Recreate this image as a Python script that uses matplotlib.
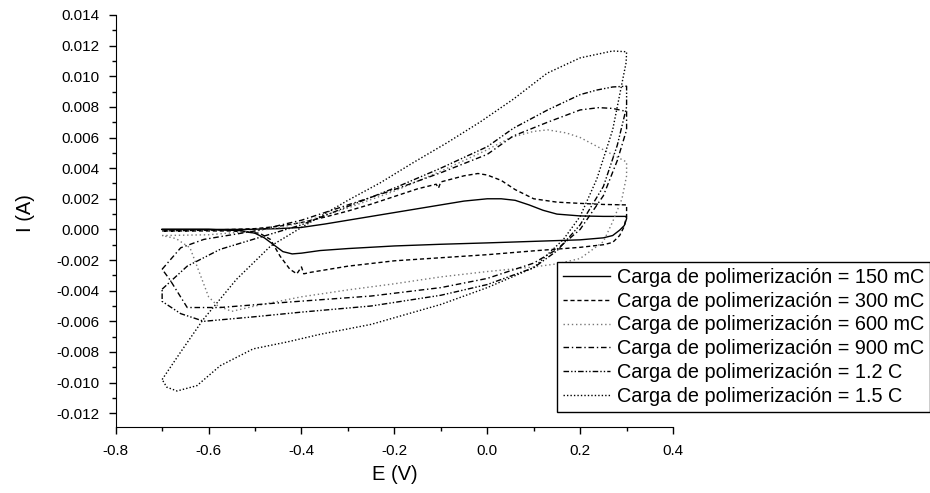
import numpy as np
import matplotlib
matplotlib.use('Agg')
from matplotlib import pyplot as plt
from matplotlib.ticker import MultipleLocator, FormatStrFormatter

plt.rcParams['font.family'] = ['Liberation Sans', 'DejaVu Sans']
plt.rcParams['axes.unicode_minus'] = False

# cyclic voltammograms, potential in V, current in mA
E_150 = [-0.70, -0.60, -0.52, -0.45, -0.40, -0.35, -0.30, -0.25, -0.20, -0.15, -0.10, -0.05,
         0.00, 0.03, 0.06, 0.09, 0.12, 0.15, 0.20, 0.25, 0.30,
         0.30, 0.295, 0.285, 0.27, 0.25, 0.20, 0.10, 0.00, -0.10, -0.20, -0.30, -0.36,
         -0.40, -0.42, -0.44, -0.46, -0.48, -0.50, -0.53, -0.60, -0.70]
I_150 = [0.00, 0.00, 0.00, 0.05, 0.13, 0.35, 0.60, 0.85, 1.10, 1.35, 1.60, 1.85,
         2.00, 2.00, 1.90, 1.60, 1.25, 1.00, 0.88, 0.85, 0.85,
         0.70, 0.25, -0.05, -0.40, -0.55, -0.68, -0.78, -0.88, -0.97, -1.08, -1.25, -1.38,
         -1.55, -1.60, -1.45, -1.00, -0.55, -0.25, -0.08, 0.00, 0.00]

E_300 = [-0.70, -0.60, -0.50, -0.45, -0.40, -0.35, -0.30, -0.25, -0.20, -0.15, -0.11, -0.105,
         -0.10, -0.05, -0.02, 0.00, 0.03, 0.06, 0.10, 0.15, 0.20, 0.25, 0.30,
         0.30, 0.295, 0.285, 0.27, 0.25, 0.20, 0.10, 0.00, -0.10, -0.20, -0.30, -0.38,
         -0.395, -0.40, -0.41, -0.425, -0.446, -0.467, -0.49, -0.55, -0.70]
I_300 = [-0.10, -0.05, 0.05, 0.20, 0.45, 0.80, 1.20, 1.65, 2.15, 2.65, 2.95, 2.70,
         3.10, 3.50, 3.65, 3.55, 3.20, 2.60, 2.00, 1.78, 1.70, 1.63, 1.60,
         0.90, 0.20, -0.40, -0.85, -1.00, -1.17, -1.40, -1.65, -1.85, -2.05, -2.40, -2.80,
         -2.90, -2.45, -2.90, -2.60, -1.75, -0.65, -0.25, -0.10, -0.10]

E_600 = [-0.70, -0.60, -0.50, -0.45, -0.40, -0.30, -0.20, -0.10, 0.00, 0.05, 0.10, 0.13,
         0.17, 0.20, 0.25, 0.30,
         0.30, 0.29, 0.27, 0.25, 0.20, 0.15, 0.10, 0.00, -0.10, -0.20, -0.30, -0.40,
         -0.50, -0.55, -0.58, -0.60, -0.62, -0.64, -0.67, -0.70]
I_600 = [-0.40, -0.35, -0.10, 0.10, 0.45, 1.40, 2.50, 3.80, 5.20, 6.00, 6.40, 6.50,
         6.30, 6.00, 5.20, 4.40,
         3.50, 2.00, 0.50, -0.80, -1.90, -2.25, -2.45, -2.75, -3.10, -3.55, -3.95, -4.40,
         -5.00, -5.35, -5.00, -4.40, -2.80, -1.20, -0.60, -0.40]

E_900 = [-0.70, -0.66, -0.61, -0.55, -0.50, -0.40, -0.30, -0.20, -0.10, 0.00, 0.056, 0.13,
         0.20, 0.24, 0.27, 0.30,
         0.30, 0.28, 0.25, 0.20, 0.15, 0.10, 0.00, -0.10, -0.25, -0.43, -0.575, -0.646,
         -0.683, -0.70]
I_900 = [-2.60, -1.20, -0.65, -0.35, -0.10, 0.60, 1.60, 2.60, 3.70, 4.90, 6.10, 7.00,
         7.80, 7.95, 7.90, 7.70,
         6.50, 4.50, 2.20, 0.00, -1.30, -2.20, -3.20, -3.80, -4.35, -4.75, -5.10, -5.10,
         -3.30, -2.60]

E_1200 = [-0.70, -0.646, -0.575, -0.49, -0.40, -0.30, -0.20, -0.10, 0.00, 0.056, 0.13,
          0.20, 0.236, 0.27, 0.30,
          0.30, 0.28, 0.25, 0.20, 0.15, 0.10, 0.00, -0.10, -0.25, -0.40, -0.50, -0.61,
          -0.66, -0.70, -0.70]
I_1200 = [-3.90, -2.40, -1.30, -0.52, 0.30, 1.50, 2.70, 4.00, 5.40, 6.60, 7.80,
          8.80, 9.10, 9.30, 9.35,
          8.00, 5.50, 2.80, 0.30, -1.40, -2.50, -3.60, -4.30, -5.00, -5.40, -5.70, -6.00,
          -5.50, -4.70, -3.90]

E_1500 = [-0.70, -0.66, -0.612, -0.54, -0.467, -0.396, -0.30, -0.23, -0.16, -0.087, -0.016,
          0.056, 0.129, 0.20, 0.27, 0.30,
          0.299, 0.27, 0.236, 0.20, 0.164, 0.10, 0.00, -0.10, -0.25, -0.36, -0.431, -0.504,
          -0.575, -0.625, -0.668, -0.69, -0.70]
I_1500 = [-9.80, -8.00, -5.90, -3.26, -1.10, 0.20, 1.90, 3.05, 4.35, 5.65, 7.00,
          8.50, 10.20, 11.20, 11.65, 11.60,
          10.90, 6.50, 3.30, 0.85, -0.65, -2.50, -3.80, -4.90, -6.20, -6.85, -7.35, -7.80,
          -8.90, -10.20, -10.55, -10.30, -9.80]

labels = ['Carga de polimerización = 150 mC',
          'Carga de polimerización = 300 mC',
          'Carga de polimerización = 600 mC',
          'Carga de polimerización = 900 mC',
          'Carga de polimerización = 1.2 C',
          'Carga de polimerización = 1.5 C']

series = [(E_150, I_150), (E_300, I_300), (E_600, I_600),
          (E_900, I_900), (E_1200, I_1200), (E_1500, I_1500)]
styles = [dict(color='black', ls='-', lw=1.0),
          dict(color='black', ls=(0, (3, 2)), lw=1.0),
          dict(color='#777777', ls=(0, (1, 2)), lw=1.0),
          dict(color='black', ls=(0, (4, 2, 1, 2)), lw=1.0),
          dict(color='black', ls=(0, (4, 1.5, 1, 1.5, 1, 1.5)), lw=1.0),
          dict(color='black', ls=(0, (1, 1.5)), lw=1.0)]

fig = plt.figure(figsize=(9.3, 4.93), dpi=100)
ax = fig.add_axes([0.1244, 0.1339, 0.5993, 0.8357])

for (e, i), lab, st in zip(series, labels, styles):
    ax.plot(e, np.array(i) * 1e-3, label=lab, **st)

ax.set_xlim(-0.8, 0.4)
ax.set_ylim(-0.0129, 0.014)
ax.spines['top'].set_visible(False)
ax.spines['right'].set_visible(False)
ax.xaxis.set_major_locator(MultipleLocator(0.2))
ax.xaxis.set_minor_locator(MultipleLocator(0.1))
ax.yaxis.set_major_locator(MultipleLocator(0.002))
ax.yaxis.set_minor_locator(MultipleLocator(0.001))
ax.xaxis.set_major_formatter(FormatStrFormatter('%.1f'))
ax.yaxis.set_major_formatter(FormatStrFormatter('%.3f'))
ax.tick_params(which='major', direction='out', length=5, width=1, labelsize=11)
ax.tick_params(which='minor', direction='out', length=3, width=1)
ax.tick_params(axis='x', which='major', pad=7)
ax.tick_params(axis='y', which='major', pad=6.5)
ax.set_xlabel('E (V)', fontsize=14.5, labelpad=5)
ax.set_ylabel('I (A)', fontsize=14.5)
ax.yaxis.set_label_coords(-0.145, 0.52)

leg = ax.legend(loc='upper left', bbox_to_anchor=(557 / 930, 1 - 262 / 493),
                bbox_transform=fig.transFigure, borderaxespad=0, fontsize=14.3,
                frameon=True, fancybox=False, framealpha=1, edgecolor='black',
                labelspacing=0.24, handlelength=2.35, handletextpad=0.35,
                borderpad=0.3)
leg.get_frame().set_linewidth(1.0)

fig.savefig('out.png', dpi=100)
